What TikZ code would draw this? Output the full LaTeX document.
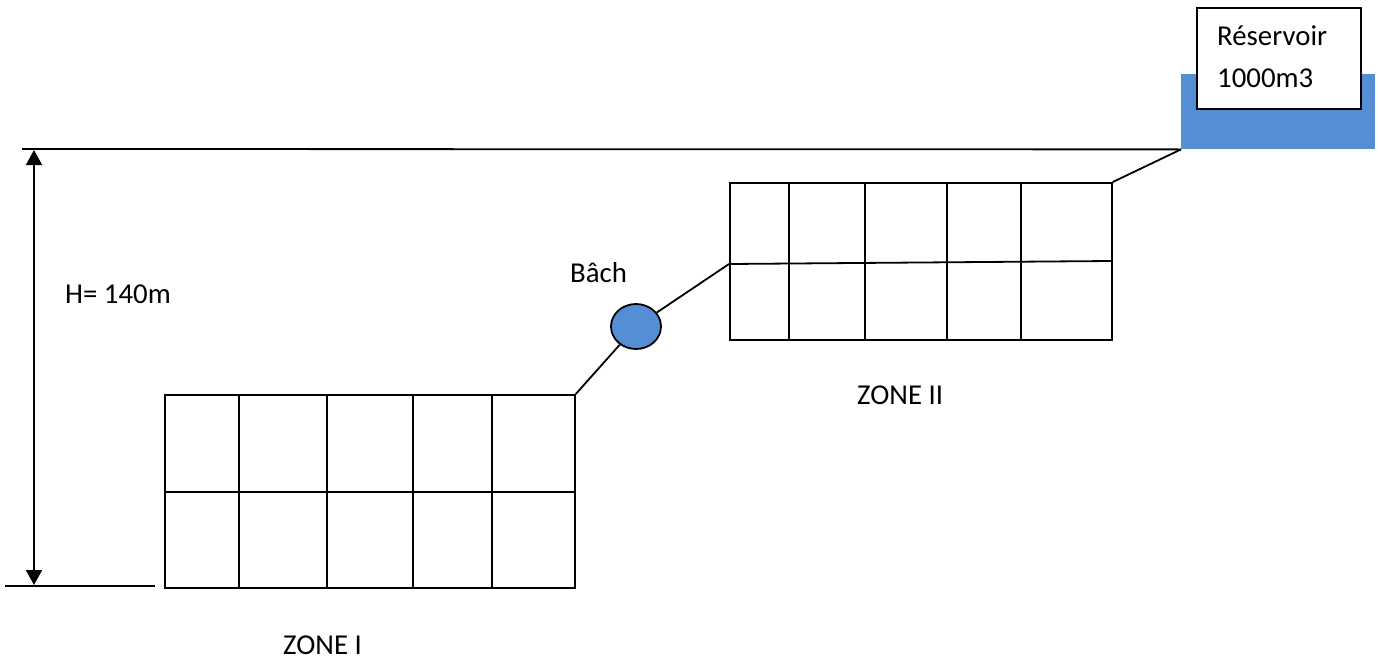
\documentclass[tikz,border=0pt]{standalone}
\usepackage{fontspec}
\setmainfont{Carlito}
\usetikzlibrary{arrows.meta,shapes.geometric}
\definecolor{waterblue}{RGB}{85,142,213}
\tikzset{
  wire/.style={line width=1.8pt, black},
  gridline/.style={line width=1.8pt, black},
  block/.style={draw, line width=1.8pt, rectangle, inner sep=0pt, anchor=north west},
  lbl/.style={anchor=base west, inner sep=0pt, font=\fontsize{28.8}{34}\selectfont},
}
\begin{document}
\begin{tikzpicture}[x=1pt, y=-1pt]
\useasboundingbox (0,0) rectangle (1378,661);

% reservoir: water tank with label box
\node[fill=waterblue, rectangle, inner sep=0pt, anchor=north west,
      minimum width=194pt, minimum height=75pt] (tank) at (1181,74) {};
\node[block, fill=white, minimum width=164pt, minimum height=101pt] (res) at (1196,7) {};
\node[lbl] (resA) at (1217,46) {Réservoir};
\node[lbl] (resB) at (1217,88) {1000m3};

% reference levels and height dimension
\coordinate (topL) at (22,149);
\coordinate (botL) at (5,586);
\coordinate (botR) at (155,586);
\coordinate (dimT) at (34,150);
\coordinate (dimB) at (34,585);
\draw[wire] (topL) -- (tank.south west);
\draw[wire] (botL) -- (botR);
\draw[wire, {Triangle[width=16pt,length=15pt]}-{Triangle[width=16pt,length=15pt]}] (dimT) -- (dimB);
\node[lbl] (hgt) at (65,303) {H= 140m};

% zone I block grid
\node[block, minimum width=410pt, minimum height=193pt] (zoneI) at (164,394) {};
\foreach \x in {239,327,413,492}
  \draw[gridline] (\x,394) -- (\x,587);
\draw[gridline] (164,492) -- (574,492);
\node[lbl] (zI) at (283,654) {ZONE I};

% zone II block grid
\node[block, minimum width=382pt, minimum height=157pt] (zoneII) at (729,182) {};
\foreach \x in {789,865,947,1021}
  \draw[gridline] (\x,182) -- (\x,339);
\coordinate (zIIw) at (729,264);
\draw[gridline] (zIIw) -- (1111,261);
\node[lbl] (zII) at (857,404) {ZONE II};

% intermediate basin
\node[ellipse, draw, line width=1.8pt, fill=waterblue, inner sep=0pt,
      minimum width=50pt, minimum height=45pt] (bach) at (636,326.5) {};
\node[lbl] (bachL) at (570,282) {Bâch};

% pipes
\draw[wire] (zoneI.north east) -- (bach);
\draw[wire] (bach) -- (zIIw);
\draw[wire] (zoneII.north east) -- (tank.south west);
\end{tikzpicture}
\end{document}
